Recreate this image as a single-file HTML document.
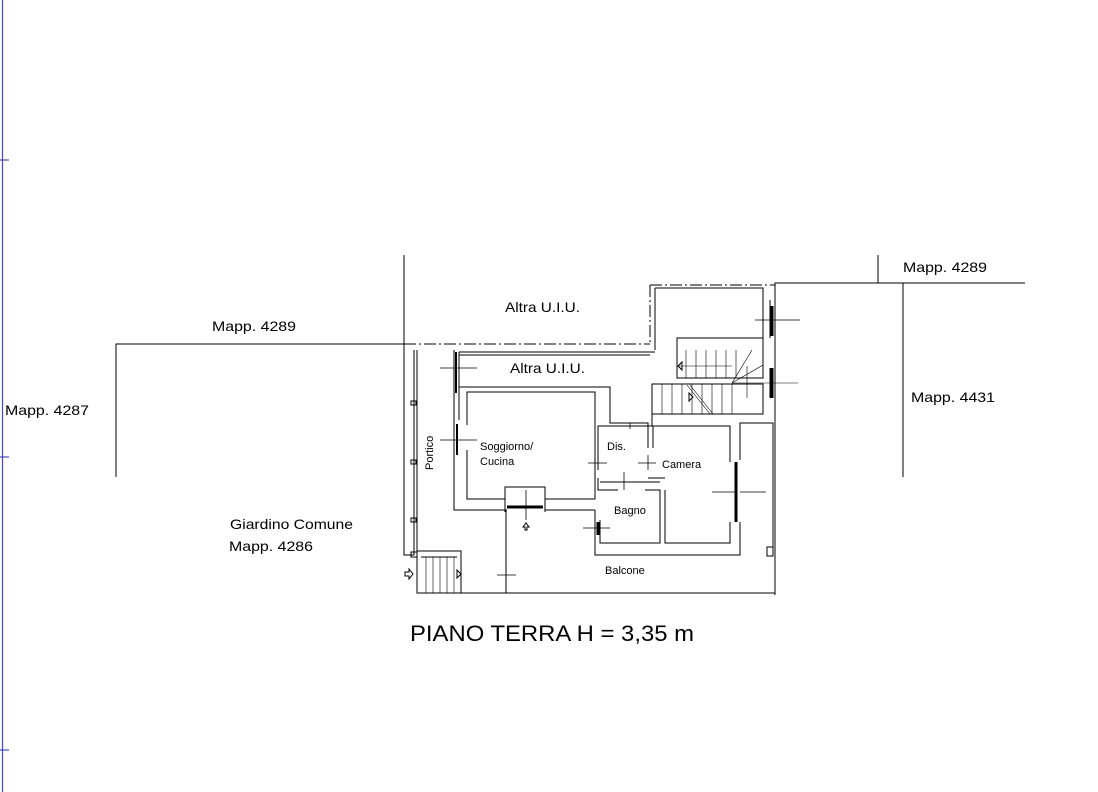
<!DOCTYPE html>
<html><head><meta charset="utf-8"><style>
html,body{margin:0;padding:0;background:#fff;width:1098px;height:792px;overflow:hidden}
svg{display:block}
text{font-family:"Liberation Sans",sans-serif;fill:#000}
</style></head><body>
<svg width="1098" height="792" viewBox="0 0 1098 792" xmlns="http://www.w3.org/2000/svg">
<g stroke="#4b4bb0" stroke-width="1.2">
<line x1="2.5" y1="0" x2="2.5" y2="792"/>
<line x1="0" y1="160" x2="9" y2="160"/>
<line x1="0" y1="457" x2="9" y2="457"/>
<line x1="0" y1="750" x2="9" y2="750"/>
</g>
<g stroke="#000" stroke-width="1" fill="none">
<polyline points="116,477 116,344 404,344"/>
<line x1="404" y1="255" x2="404" y2="350"/>
<line x1="404" y1="344" x2="650" y2="344" stroke-dasharray="12,3,2,3"/>
<line x1="650" y1="285" x2="650" y2="344" stroke-dasharray="12,3,2,3"/>
<line x1="650" y1="285" x2="775" y2="285" stroke-dasharray="12,3,2,3"/>
<polyline points="775,595 775,283 1025,283"/>
<line x1="878" y1="255" x2="878" y2="283"/>
<line x1="903" y1="283" x2="903" y2="477"/>
<polyline points="404,350 404,555 414,555"/>
<line x1="414" y1="350" x2="414" y2="555"/>
<line x1="417" y1="350" x2="417" y2="553"/>
<rect x="411" y="401" width="5" height="4"/>
<rect x="411" y="460" width="5" height="4"/>
<rect x="411" y="518" width="5" height="4"/>
<rect x="411" y="552" width="6" height="5"/>
<polyline points="454,350 454,510 507,510"/>
<polyline points="459,352 459,393"/>
<line x1="459" y1="352" x2="655" y2="352"/>
<line x1="459" y1="355" x2="650" y2="355"/>
<polyline points="655,288 655,350"/>
<polyline points="655,288 763,288 763,338"/>
<line x1="770" y1="300" x2="770" y2="338"/>
<line x1="770" y1="368" x2="770" y2="398"/>
<polyline points="459,420 459,387 610,387 610,423 648,423 648,426 652,426 652,414 763,414 763,384"/>
<polyline points="467,425 467,392 595,392 595,499 545,499"/>
<polyline points="505,499 467,499 467,450"/>
<polyline points="505,512 505,487 545,487 545,512"/>
<line x1="507" y1="507" x2="543" y2="507" stroke-width="3"/>
<polyline points="545,510 595,510"/>
<line x1="506" y1="510" x2="506" y2="593"/>
<rect x="677" y="338" width="86" height="40"/>
<rect x="652" y="384" width="111" height="30"/>
<g stroke-width="0.6">
<line x1="686" y1="350" x2="686" y2="378"/><line x1="696" y1="350" x2="696" y2="378"/><line x1="706" y1="350" x2="706" y2="378"/><line x1="716" y1="350" x2="716" y2="378"/><line x1="726" y1="350" x2="726" y2="378"/><line x1="736" y1="350" x2="736" y2="378"/>
<line x1="662" y1="384" x2="662" y2="414"/><line x1="672" y1="384" x2="672" y2="414"/><line x1="682" y1="384" x2="682" y2="414"/><line x1="692" y1="384" x2="692" y2="414"/><line x1="702" y1="384" x2="702" y2="414"/><line x1="712" y1="384" x2="712" y2="414"/><line x1="722" y1="384" x2="722" y2="414"/><line x1="732" y1="384" x2="732" y2="414"/>
<line x1="732" y1="383" x2="752" y2="350"/><line x1="732" y1="383" x2="763" y2="365"/><line x1="687" y1="385" x2="710" y2="414"/><line x1="690" y1="385" x2="713" y2="414"/>
<line x1="677" y1="366" x2="732" y2="366"/>
<line x1="732" y1="383" x2="798" y2="383"/>
<line x1="747" y1="366" x2="747" y2="398"/>
</g>
<polyline points="598,470 598,426 648,426"/>
<polyline points="648,426 648,448"/>
<polyline points="653,448 653,426 730,426 730,462"/>
<polyline points="740,460 740,423 773,423 773,555"/>
<polyline points="598,478 598,490 618,490"/>
<polyline points="645,490 660,490 660,543 600,543 600,520"/>
<polyline points="665,490 665,543 730,543 730,522"/>
<line x1="600" y1="482" x2="660" y2="482"/>
<line x1="648" y1="478" x2="665" y2="478"/>
<polyline points="595,510 595,555 740,555 740,522"/>
<line x1="736" y1="462" x2="736" y2="522" stroke-width="3"/>
<line x1="598" y1="522" x2="598" y2="535" stroke-width="3"/>
<line x1="417" y1="593" x2="775" y2="593"/>
<line x1="417" y1="555" x2="417" y2="593"/>
<rect x="767" y="547" width="6" height="9"/>
<rect x="417" y="551" width="44" height="42"/>
<line x1="421" y1="557" x2="457" y2="557"/>
<line x1="426" y1="557" x2="426" y2="593" stroke-width="0.6"/><line x1="433" y1="557" x2="433" y2="593" stroke-width="0.6"/><line x1="440" y1="557" x2="440" y2="593" stroke-width="0.6"/><line x1="447" y1="557" x2="447" y2="593" stroke-width="0.6"/><line x1="454" y1="557" x2="454" y2="593" stroke-width="0.6"/>
<line x1="456" y1="352" x2="456" y2="393" stroke-width="2"/>
<line x1="457" y1="424" x2="457" y2="455" stroke-width="2"/>
<line x1="772" y1="306" x2="772" y2="336" stroke-width="3"/>
<line x1="772" y1="368" x2="772" y2="398" stroke-width="3"/>
<g stroke-width="0.8">
<line x1="440" y1="368" x2="477" y2="368"/><line x1="456" y1="360" x2="456" y2="383"/>
<line x1="440" y1="440" x2="477" y2="440"/>
<line x1="755" y1="320" x2="800" y2="320"/>
<line x1="740" y1="492" x2="766" y2="492"/><line x1="712" y1="492" x2="736" y2="492"/>
<line x1="588" y1="463" x2="607" y2="463"/><line x1="598" y1="455" x2="598" y2="470"/>
<line x1="638" y1="463" x2="656" y2="463"/><line x1="648" y1="455" x2="648" y2="470"/>
<line x1="624" y1="472" x2="624" y2="490"/><line x1="630" y1="423" x2="630" y2="429"/>
<line x1="526" y1="490" x2="526" y2="520"/>
<line x1="583" y1="528" x2="610" y2="528"/>
<line x1="497" y1="575" x2="516" y2="575"/>
</g>
<path d="M523,527 l3,-4 l3,4 h-2 v3 h-2 v-3z"/>
<path d="M405,572 h4 v-3 l4,5 l-4,5 v-3 h-4z"/>
<path d="M457,570 l4,4 l-4,4z"/>
<path d="M678,366 l4,-4 v8z"/>
<path d="M689,393 l4,4 l-4,4z"/>
</g>
<text x="505" y="312" font-size="14" textLength="75" lengthAdjust="spacingAndGlyphs">Altra U.I.U.</text>
<text x="510" y="373" font-size="14" textLength="75" lengthAdjust="spacingAndGlyphs">Altra U.I.U.</text>
<text x="212" y="331" font-size="14" textLength="84" lengthAdjust="spacingAndGlyphs">Mapp. 4289</text>
<text x="903" y="272" font-size="14" textLength="84" lengthAdjust="spacingAndGlyphs">Mapp. 4289</text>
<text x="5" y="415" font-size="14" textLength="84" lengthAdjust="spacingAndGlyphs">Mapp. 4287</text>
<text x="911" y="402" font-size="14" textLength="84" lengthAdjust="spacingAndGlyphs">Mapp. 4431</text>
<text x="230" y="529" font-size="14" textLength="123" lengthAdjust="spacingAndGlyphs">Giardino Comune</text>
<text x="229" y="551" font-size="14" textLength="84" lengthAdjust="spacingAndGlyphs">Mapp. 4286</text>
<text x="480" y="450" font-size="11" fill="#333">Soggiorno/</text>
<text x="480" y="465" font-size="11" fill="#333">Cucina</text>
<text x="607" y="450" font-size="11" fill="#555">Dis.</text>
<text x="662" y="468" font-size="11">Camera</text>
<text x="614" y="514" font-size="11">Bagno</text>
<text x="605" y="574" font-size="11">Balcone</text>
<text x="0" y="0" font-size="11" transform="translate(433,470) rotate(-90)">Portico</text>
<text x="410" y="641" font-size="22" textLength="284" lengthAdjust="spacingAndGlyphs">PIANO TERRA H = 3,35 m</text>
</svg>
</body></html>
